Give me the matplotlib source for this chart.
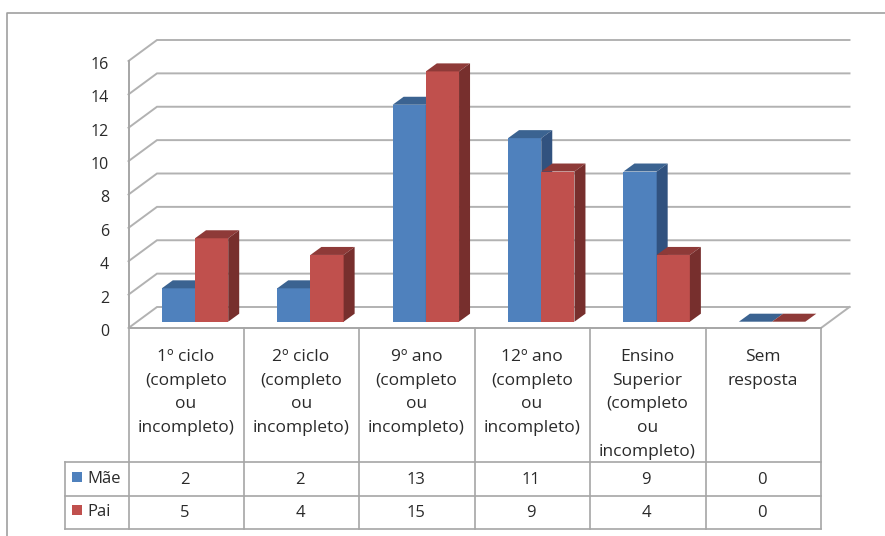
import matplotlib.pyplot as plt
from matplotlib.patches import Polygon, Rectangle
from matplotlib.transforms import ScaledTranslation

categories = ['1º ciclo\n(completo\nou\nincompleto)', '2º ciclo\n(completo\nou\nincompleto)',
              '9º ano\n(completo\nou\nincompleto)', '12º ano\n(completo\nou\nincompleto)',
              'Ensino\nSuperior\n(completo\nou\nincompleto)', 'Sem\nresposta']
mae = [2, 2, 13, 11, 9, 0]
pai = [5, 4, 15, 9, 4, 0]
y_ticks = [0, 2, 4, 6, 8, 10, 12, 14, 16]

W, H = 885, 536
FONT = 'Open Sans'
TXT = '#2a2a2a'
GRID = '#b2b2b2'
LINE = '#a6a6a6'
FS = 12

plt.rcParams['font.family'] = FONT
fig = plt.figure(figsize=(W / 100, H / 100), dpi=100, facecolor='white')

# pixel canvas for the outer frame and the data table
bg = fig.add_axes([0, 0, 1, 1])
bg.set_xlim(0, W)
bg.set_ylim(H, 0)
bg.axis('off')

left, right = 128.5, 821
y0_px, y16_px = 328, 61
ax = fig.add_axes([left / W, 1 - y0_px / H, (right - left) / W, (y0_px - y16_px) / H])
ax.set_xlim(0, len(categories))
ax.set_ylim(0, 16)
ax.patch.set_alpha(0)
for s in ax.spines.values():
    s.set_visible(False)

px_x = len(categories) / (right - left)
px_y = 16 / (y0_px - y16_px)

# wall depth of the pseudo 3D box
wall_dx, wall_dy = 28.5 * px_x, 21 * px_y
n = len(categories)
for v in y_ticks:
    ax.plot([0, wall_dx, n + wall_dx], [v, v + wall_dy, v + wall_dy], color=GRID, lw=1.4,
            solid_joinstyle='miter', clip_on=False, zorder=1)
ax.plot([n, n + wall_dx], [0, wall_dy], color=GRID, lw=1.4, clip_on=False, zorder=1)
ax.plot([0, 0], [0, 16], color=LINE, lw=1.4, clip_on=False, zorder=1)
ax.plot([0, n], [0, 0], color=LINE, lw=1.4, clip_on=False, zorder=1)

ax.set_yticks(y_ticks)
ax.set_yticklabels([str(v) for v in y_ticks], fontsize=11.5, color=TXT)
ax.tick_params(axis='y', length=0, pad=14)
ax.set_xticks([])
# tick labels sit a little below their gridline
for lab in ax.get_yticklabels():
    lab.set_transform(lab.get_transform() + ScaledTranslation(0, -2 / 100, fig.dpi_scale_trans))

# bars sit mid-depth, so they are shifted off the front plane
bar_w = 33.2 * px_x
shift_x, base = 8.8 * px_x, 6.3 * px_y
side_dx, side_dy = 11 * px_x, 8 * px_y


def draw_bar(x, v, front, top, side, z):
    ax.bar(x, v, bar_w, bottom=base, align='edge', color=front, lw=0, zorder=z, clip_on=False)
    y = base + v
    ax.add_patch(Polygon([(x, y), (x + side_dx, y + side_dy), (x + bar_w + side_dx, y + side_dy), (x + bar_w, y)],
                         closed=True, fc=top, lw=0, zorder=z, clip_on=False))
    ax.add_patch(Polygon([(x + bar_w, base), (x + bar_w + side_dx, base + side_dy), (x + bar_w + side_dx, y + side_dy), (x + bar_w, y)],
                         closed=True, fc=side, lw=0, zorder=z, clip_on=False))


for i in range(n):
    c = i + 0.5 + shift_x
    if mae[i] or pai[i]:
        draw_bar(c - bar_w, mae[i], '#4f81bd', '#3b6391', '#31527f', 3)
        draw_bar(c, pai[i], '#c0504d', '#8e3a38', '#772f2d', 4)
    else:
        # empty category: only the flat top faces remain
        draw_bar(c - bar_w, mae[i], '#3b6391', '#3b6391', '#3b6391', 3)
        draw_bar(c, pai[i], '#8e3a38', '#8e3a38', '#8e3a38', 4)

# outer frame, open on the right and at the bottom
bg.plot([6.5, 6.5, W], [H, 13, 13], color='#a0a0a0', lw=1.2)

# data table under the axis
col_w = (right - left) / n
row_a, row_b, row_c = 462, 495.5, 528.5
for i in range(n + 1):
    x = left + i * col_w
    bg.plot([x, x], [y0_px, row_c], color=LINE, lw=1.2)
bg.plot([64.5, 64.5], [row_a, row_c], color=LINE, lw=1.2)
for y in (row_a, row_b, row_c):
    bg.plot([64.5, right], [y, y], color=LINE, lw=1.2)

for i, label in enumerate(categories):
    x = left + (i + 0.5) * col_w
    bg.text(x - 0.5, 349, label, ha='center', va='top', fontsize=12.5, color=TXT, linespacing=1.64)
    bg.text(x - 1.5, (row_a + row_b) / 2 + 1, str(mae[i]), ha='center', va='center', fontsize=FS, color=TXT)
    bg.text(x - 1.5, (row_b + row_c) / 2 + 1, str(pai[i]), ha='center', va='center', fontsize=FS, color=TXT)

bg.add_patch(Rectangle((71.5, 472), 10, 10, fc='#4f81bd', lw=0))
bg.add_patch(Rectangle((71.5, 505), 10, 10, fc='#c0504d', lw=0))
bg.text(87, (row_a + row_b) / 2, 'Mãe', ha='left', va='center', fontsize=FS, color=TXT)
bg.text(87, (row_b + row_c) / 2, 'Pai', ha='left', va='center', fontsize=FS, color=TXT)

fig.savefig('out.png', dpi=100)
